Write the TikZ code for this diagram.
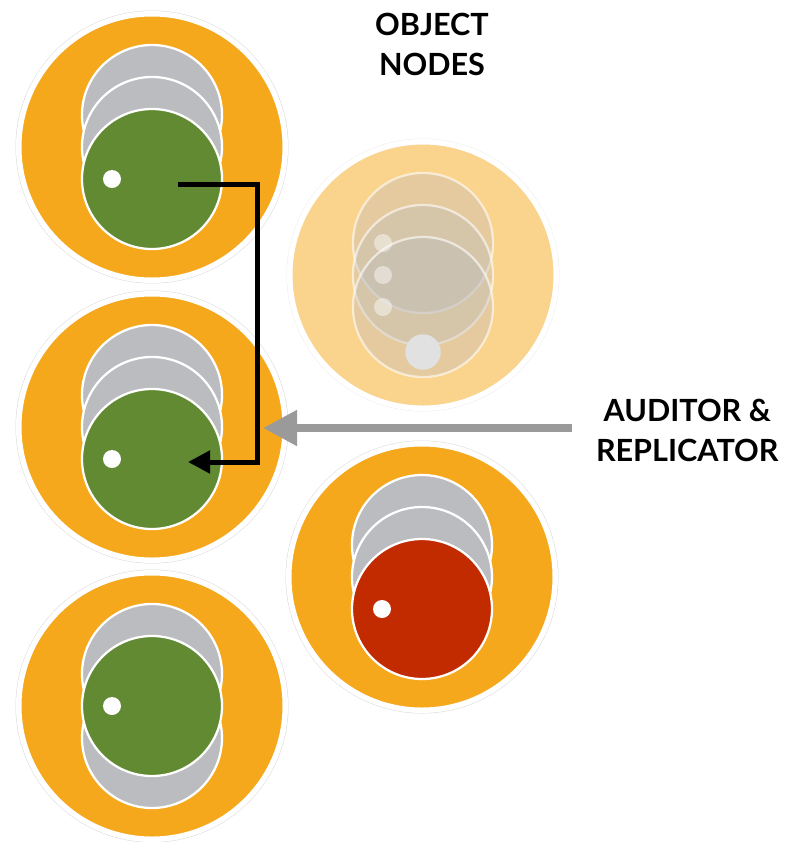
\documentclass[tikz,border=0pt]{standalone}
\usepackage{fontspec}
\usepackage{tikz}
\usetikzlibrary{calc}
\usetikzlibrary{arrows.meta}
\newfontfamily\tagfont{Lato}

\definecolor{amber}{HTML}{F6A81D}
\definecolor{paleamber}{HTML}{FAD38D}
\definecolor{leaf}{HTML}{618A33}
\definecolor{rust}{HTML}{C22A00}
\definecolor{shell}{HTML}{BBBCBF}
\definecolor{pointer}{HTML}{9A9A9A}

\begin{document}
\begin{tikzpicture}[x=0.2mm, y=-0.2mm,
    every node/.style={inner sep=0pt, outer sep=0pt},
    hostbase/.style={circle, minimum size=5.33cm, draw=white, line width=1.1mm},
    host/.style={hostbase, fill=amber, preaction={draw=black!15, line width=1.3mm}},
    ghost/.style={hostbase, fill=paleamber, preaction={draw=black!7, line width=1.3mm}},
    slot/.style={circle, minimum size=2.8cm, fill=shell, draw=white, line width=0.45mm},
    obj/.style={slot, fill=leaf},
    hole/.style={circle, minimum size=0.36cm, fill=white},
    tag/.style={align=center, font=\tagfont\bfseries\fontsize{17.4}{22.8}\selectfont},
    hop/.style={draw=black, line width=1mm, -{Triangle[length=4.4mm, width=4.4mm]}},
    feed/.style={draw=pointer, line width=1.6mm, -{Triangle[length=6.8mm, width=6.8mm]}}]

        \useasboundingbox (0,0) rectangle (803,842);

        \def\lift{32} % vertical step between stacked slots
        \def\spot{40} % marker offset left of a slot centre

        % hosts, left column then right column
        \foreach \i/\y in {1/147, 2/427, 3/706} {
          \node[host] (h\i) at (152, \y) {};
        }
        \node[ghost] (h4) at (423, 275) {};
        \node[host] (h5) at (422, 577) {};

        % two full stacks on the left
        \foreach \i in {1,2} {
          \node[slot] (a\i) at ($(h\i)+(0,-\lift)$) {};
          \node[slot] (b\i) at (h\i) {};
          \node[obj] (c\i) at ($(h\i)+(0,\lift)$) {};
          \node[hole] (m\i) at ($(c\i)+(-\spot,0)$) {};
        }

        % bottom stack, object in the middle
        \node[slot] (a3) at ($(h3)+(0,-\lift)$) {};
        \node[slot] (b3) at ($(h3)+(0,\lift)$) {};
        \node[obj] (c3) at (h3) {};
        \node[hole] (m3) at ($(c3)+(-\spot,0)$) {};

        % faded host
        \foreach \j/\d in {a/-1, b/0, c/1} {
          \node[slot, fill opacity=0.35, draw opacity=0.6] (\j4) at ($(h4)+(0,\d*\lift)$) {};
        }
        \foreach \j in {a,b,c} {
          \node[hole, opacity=0.45] (m\j4) at ($(\j4)+(-\spot,0)$) {};
        }
        \node[circle, minimum size=0.71cm, fill=black!4!shell!40!white] (drop) at ($(h4)+(0,77)$) {};

        % failed object
        \node[slot] (a5) at ($(h5)+(0,-\lift)$) {};
        \node[slot] (b5) at (h5) {};
        \node[obj, fill=rust] (c5) at ($(h5)+(0,\lift)$) {};
        \node[hole] (m5) at ($(c5)+(-\spot,0)$) {};

        % labels
        \node[tag] (objlbl) at (432, 44) {OBJECT\\NODES};
        \node[tag, anchor=west] (aud) at (596, 430) {AUDITOR \&\\REPLICATOR};

        % copy path between hosts
        \coordinate (src) at ($(c1)+(26,5)$);
        \coordinate (dst) at ($(c2)+(36,3)$);
        \coordinate (bend) at (257, 300);
        \draw[hop] (src) -- (src -| bend) -- (bend |- dst) -- (dst);

        \coordinate (tip) at (263, 428);
        \draw[feed, shorten <=4.8mm] (aud.west |- tip) -- (tip);

      \end{tikzpicture}
\end{document}
